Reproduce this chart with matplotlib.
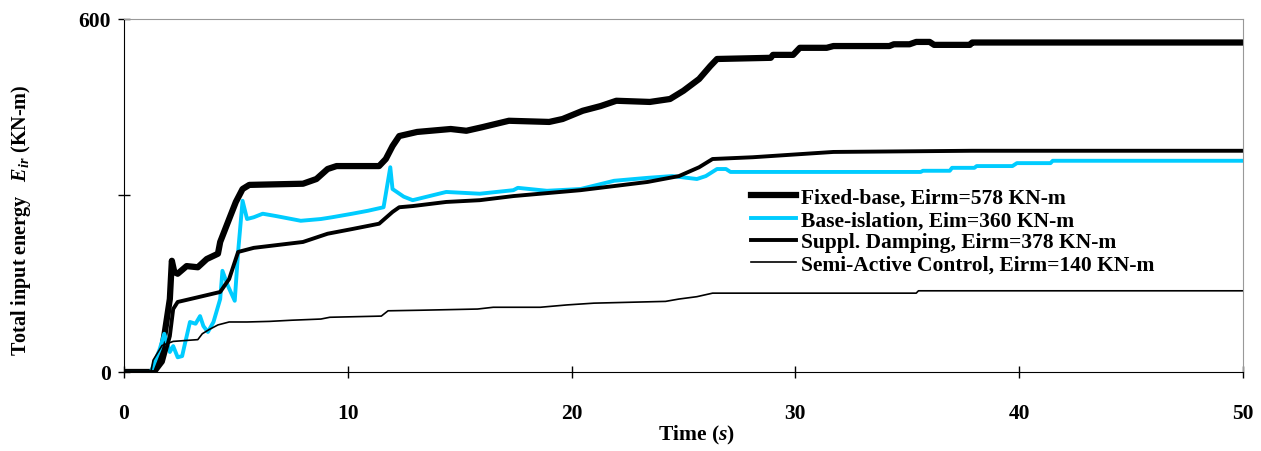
"""
Total input energy time histories for four structural control schemes
"""

import matplotlib.pyplot as plt

# Fixed-base
FIXED_T = [0, 1.3, 1.6, 1.8, 2.05, 2.14, 2.25, 2.4, 2.8, 3.3, 3.7, 4.2, 4.3, 4.7, 5.0,
           5.3, 5.6, 8.0, 8.6, 9.1, 9.5, 11.4, 11.7, 12.0, 12.3, 13.1, 14.6, 15.3, 16.0,
           17.2, 19.0, 19.6, 20.5, 21.3, 22.0, 23.5, 24.4, 25.0, 25.7, 26.2, 26.5, 28.9,
           29.0, 29.9, 30.2, 31.4, 31.7, 34.2, 34.4, 35.1, 35.4, 36.0, 36.2, 37.8, 37.9, 50]
FIXED_E = [0, 0, 17, 61, 124, 189, 170, 167, 180, 178, 192, 201, 221, 260, 289,
           311, 318, 320, 328, 345, 350, 350, 362, 384, 401, 408, 413, 410, 416,
           427, 425, 430, 444, 452, 461, 459, 464, 478, 498, 520, 532, 534,
           539, 539, 551, 551, 554, 554, 557, 557, 561, 561, 556, 556, 560, 560]

# Base-isolation
BASE_T = [0, 1.2, 1.3, 1.6, 1.8, 2.05, 2.2, 2.4, 2.6, 2.7, 2.95, 3.2, 3.4, 3.55, 3.75,
          4.0, 4.3, 4.4, 4.65, 4.95, 5.1, 5.3, 5.5, 5.8, 6.2, 6.8, 7.9, 8.8, 9.3, 10.2,
          10.9, 11.6, 11.9, 12.0, 12.5, 12.9, 14.4, 15.9, 17.4, 17.6, 18.9, 20.4, 21.9,
          23.4, 24.5, 25.6, 26.0, 26.5, 26.9, 27.1, 35.6, 35.7, 36.9, 37.0, 38.0, 38.1,
          39.7, 39.9, 41.4, 41.5, 50]
BASE_E = [0, 0, 10, 39, 65, 34, 44, 25, 27, 44, 85, 82, 95, 78, 68,
          85, 124, 172, 146, 121, 204, 291, 260, 263, 269, 265, 257, 260, 263, 269,
          274, 280, 348, 311, 298, 292, 306, 303, 309, 313, 308, 311, 325,
          330, 333, 328, 333, 345, 345, 340, 340, 342, 342, 347, 347, 350,
          350, 355, 355, 359, 359]

# Supplemental damping
DAMP_T = [0, 1.4, 1.74, 2.05, 2.2, 2.4, 3.3, 4.3, 4.7, 5.1, 5.3, 5.8, 8.0, 9.1, 10.2,
          11.4, 12.0, 12.3, 12.9, 14.4, 15.9, 17.4, 18.9, 20.4, 21.9, 23.4, 24.8, 25.7,
          26.3, 28.1, 30.1, 31.7, 37.9, 50]
DAMP_E = [0, 0, 17, 61, 107, 119, 127, 136, 158, 204, 206, 211, 221, 235, 243,
          252, 272, 280, 282, 289, 292, 299, 304, 309, 316, 323, 333, 348,
          362, 365, 370, 374, 376, 376]

# Semi-active control
SEMI_T = [0, 1.2, 1.3, 1.7, 2.2, 3.3, 3.5, 3.8, 4.2, 4.7, 5.5, 6.5, 7.5, 8.8, 9.2,
          11.5, 11.8, 13.3, 15.8, 16.5, 18.6, 19.8, 21.0, 24.2, 24.8, 25.6, 26.3,
          35.4, 35.5, 50]
SEMI_E = [0, 0, 20, 45, 52, 55, 65, 72, 80, 85, 85, 86, 88, 90, 93,
          95, 104, 105, 107, 110, 110, 114, 117, 120, 124, 128, 134,
          134, 138, 138]

LABELS = ["Fixed-base, Eirm=578 KN-m",
          "Base-islation, Eim=360 KN-m",
          "Suppl. Damping, Eirm=378 KN-m",
          "Semi-Active Control, Eirm=140 KN-m"]

X_TICKS = [0, 10, 20, 30, 40, 50]
Y_TICKS = [0, 300, 600]
Y_TICK_LABELS = ["0", "", "600"]

plt.rcParams['font.family'] = 'Liberation Serif'
plt.rcParams['font.weight'] = 'bold'
plt.rcParams['axes.labelweight'] = 'bold'
plt.rcParams['mathtext.fontset'] = 'custom'
plt.rcParams['mathtext.rm'] = 'Liberation Serif:bold'
plt.rcParams['mathtext.it'] = 'Liberation Serif:bold:italic'

fig = plt.figure(figsize=(12.61, 4.52), dpi=100)
ax = fig.add_axes([0.0983, 0.1748, 0.8874, 0.781])

ax.plot(FIXED_T, FIXED_E, color='black', lw=4.5, label=LABELS[0])
ax.plot(BASE_T, BASE_E, color='#00CCFF', lw=2.8, label=LABELS[1])
ax.plot(DAMP_T, DAMP_E, color='black', lw=2.8, label=LABELS[2])
ax.plot(SEMI_T, SEMI_E, color='black', lw=1.2, label=LABELS[3])

ax.set_xlim(0, 50)
ax.set_ylim(0, 600)
ax.set_xticks(X_TICKS)
ax.set_yticks(Y_TICKS)
ax.set_yticklabels(Y_TICK_LABELS)
ax.tick_params(direction='inout', length=9, width=1, labelsize=15.5)
ax.tick_params(axis='x', pad=18)
ax.tick_params(axis='y', pad=5)

# Excel-like frame: dark axes, grey box
ax.spines['top'].set_color('#999999')
ax.spines['right'].set_color('#999999')
for side in ['left', 'bottom']:
    ax.spines[side].set_color('black')

ax.set_xlabel("Time ($s$)", fontsize=15.5, labelpad=0, x=0.512)
ax.set_ylabel("Total input energy   $E_{ir}$ (KN-m)", fontsize=14.5)
ax.yaxis.set_label_coords(-0.081, 0.433)

fig.legend(loc='upper left', bbox_to_anchor=(0.580, 0.625), frameon=False,
           fontsize=15.5, handlelength=2.1, handletextpad=0.25, labelspacing=0.1)

fig.savefig("out.png", dpi=100)
